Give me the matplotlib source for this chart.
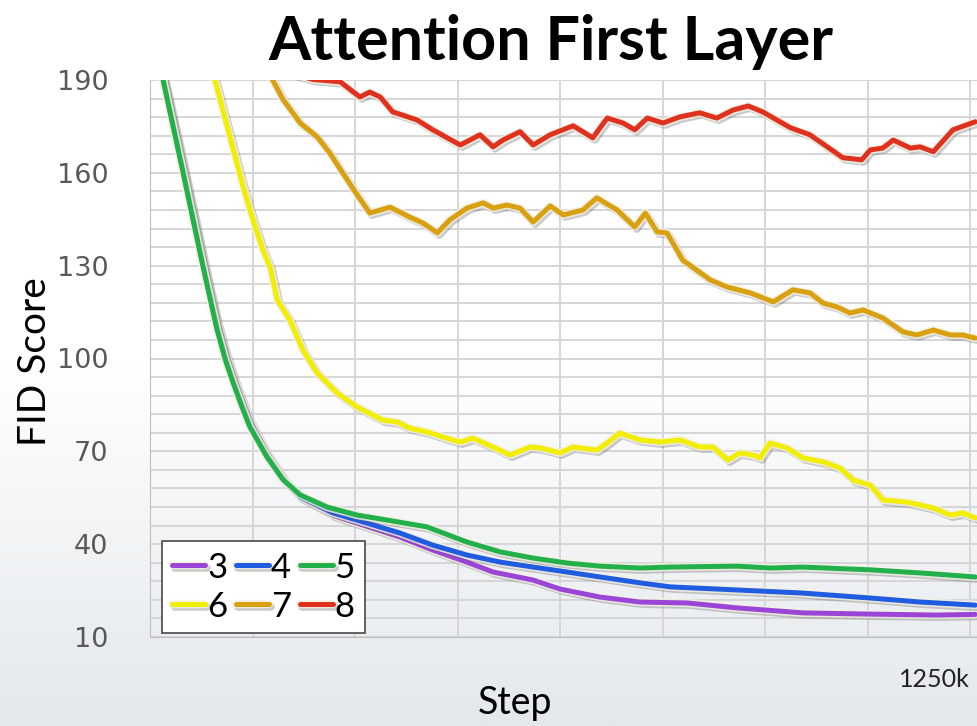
import numpy as np
import matplotlib
matplotlib.use('Agg')
import matplotlib.pyplot as plt
import matplotlib.patheffects as pe

# steps in thousands, FID values
steps_3 = [10, 20, 50, 80, 102, 115, 127, 140, 152, 178, 203, 229, 279, 316, 381, 431, 483, 523,
           584, 625, 686, 747, 819, 895, 995, 1098, 1200, 1258]
fid_3 = [200, 191.5, 163, 133, 112, 102, 94, 86.5, 80, 69.5, 61.5, 55.5, 49.4, 46.8, 42.3, 38.1, 34.2, 31.0,
         28.4, 25.5, 22.9, 21.3, 21.0, 19.4, 17.8, 17.4, 17.1, 17.3]

steps_4 = [10, 20, 50, 80, 102, 115, 127, 140, 152, 178, 203, 229, 279, 331, 381, 431, 483, 534,
           584, 636, 686, 747, 793, 895, 995, 1098, 1174, 1258]
fid_4 = [200, 190, 161, 131, 110, 100, 92.5, 85, 78.5, 68.5, 61, 55.2, 50.1, 46.8, 43.6, 39.7, 36.5, 34.2,
         32.6, 31.0, 29.4, 27.5, 26.2, 25.2, 24.2, 22.6, 21.3, 20.3]

steps_5 = [10, 20, 50, 80, 102, 115, 127, 140, 152, 178, 203, 229, 270, 316, 361, 422, 447, 483, 534,
           584, 636, 686, 747, 793, 895, 945, 995, 1098, 1174, 1258]
fid_5 = [200, 190, 160.5, 130.5, 109.5, 99.5, 92, 84.5, 78, 68.3, 60.8, 55.9, 52.0, 49.4, 47.8, 45.6, 43.6, 40.7, 37.5,
         35.5, 33.9, 32.9, 32.3, 32.6, 32.9, 32.3, 32.6, 31.7, 30.7, 29.4]

steps_6 = [80, 99, 122, 142, 157, 172, 183, 194, 213, 233, 255, 285, 316, 355, 377, 396, 422,
           447, 473, 492, 523, 549, 579, 595, 625, 645, 681, 697, 716, 747, 777, 808, 838,
           858, 881, 899, 919, 930, 945, 971, 995, 1026, 1052, 1072, 1098, 1117, 1154, 1194,
           1220, 1239, 1258]
fid_6 = [200, 190, 171.6, 155.5, 144.8, 135.1, 129.6, 118.9, 112.5, 102.8, 95.3, 88.9, 84.3, 80.1, 79.5, 77.5, 76.3,
         74.6, 73.0, 74.3, 71.4, 68.8, 71.4, 71.1, 69.5, 71.4, 70.4, 72.7, 75.9, 73.7, 73.0, 73.7, 71.4,
         71.4, 67.2, 69.5, 68.8, 67.9, 72.7, 71.1, 67.9, 66.6, 64.6, 60.7, 59.1, 54.3, 53.6, 51.7,
         49.4, 50.1, 48.5]

steps_7 = [150, 187, 203, 229, 255, 274, 294, 316, 335, 366, 396, 416, 438, 457, 483, 508, 523,
           544, 564, 584, 610, 630, 660, 681, 712, 739, 755, 773, 788, 812, 854, 880, 915, 950,
           980, 1006, 1026, 1047, 1067, 1087, 1117, 1148, 1169, 1194, 1220, 1239, 1258]
fid_7 = [200, 190, 183.6, 176.1, 171.6, 166.4, 159.9, 152.8, 147.0, 148.9, 145.7, 143.8, 140.6, 144.8, 148.6, 150.3, 148.6,
         149.6, 148.6, 144.1, 149.3, 146.4, 148.0, 151.9, 148.0, 142.5, 147.0, 140.9, 140.6, 131.8, 125.4, 123.1, 121.2, 118.3,
         122.2, 121.2, 117.9, 116.7, 114.7, 115.7, 113.1, 108.6, 107.6, 109.2, 107.6, 107.6, 106.6]

steps_8 = [200, 248, 290, 320, 335, 351, 370, 407, 431, 473, 503, 523, 538, 564, 584, 610, 645,
           675, 697, 721, 739, 758, 782, 808, 838, 864, 889, 912, 934, 976, 1006, 1056, 1085,
           1098, 1117, 1133, 1159, 1174, 1194, 1224, 1258]
fid_8 = [193, 190.2, 189.4, 184.5, 186.1, 184.5, 179.7, 177.1, 173.9, 169.0, 172.3, 168.4, 170.6, 173.3, 169.0, 172.3, 175.2,
         171.3, 177.7, 176.1, 173.9, 177.7, 176.1, 178.1, 179.4, 177.7, 180.3, 181.6, 179.7, 174.6, 172.3, 164.9, 164.2,
         167.4, 168.0, 170.6, 168.0, 168.4, 166.8, 173.9, 176.5]

labels = ['3', '4', '5', '6', '7', '8']
colors = ['#9b45d6', '#1f5ce0', '#22b04b', '#f2ee00', '#d9a010', '#e0301e']

fig = plt.figure(figsize=(9.77, 7.26), dpi=100)

# background gradient, white at top to light grey at bottom
bg = fig.add_axes([0, 0, 1, 1], zorder=-10)
grad = np.linspace(0, 1, 256).reshape(-1, 1)
bg.imshow(grad, aspect='auto', cmap=matplotlib.colors.LinearSegmentedColormap.from_list(
    'bg', ['#ffffff', '#ffffff', '#e4e8ec']), extent=[0, 1, 0, 1])
bg.axis('off')

ax = fig.add_axes([150 / 977, 1 - 637 / 726, 827 / 977, 557 / 726])
ax.patch.set_alpha(0)

all_steps = [steps_3, steps_4, steps_5, steps_6, steps_7, steps_8]
all_fid = [fid_3, fid_4, fid_5, fid_6, fid_7, fid_8]
glow = [pe.SimpleLineShadow(offset=(1.5, -1.5), shadow_color='#555555', alpha=0.3, linewidth=5.5),
        pe.Stroke(linewidth=6.0, foreground='#f4f1e4', alpha=0.8),
        pe.Normal()]
lines = {}
for i in [5, 4, 3, 0, 1, 2]:
    ln, = ax.plot(all_steps[i], all_fid[i], color=colors[i], lw=3.6, label=labels[i], zorder=3 + i,
                  solid_capstyle='round', solid_joinstyle='round', path_effects=glow)
    lines[labels[i]] = ln

ax.set_xlim(0, 1250 * 827 / 820)
ax.set_ylim(10, 190)

ax.set_yticks(np.arange(10, 191, 30))
ax.set_yticks(np.arange(10, 191, 6), minor=True)
ax.set_xticks([1250], ['1250k'])
ax.set_xticks(np.arange(0, 1251, 156.25), minor=True)
ax.grid(True, which='both', color='#d6d6d6', lw=1.4)
ax.set_axisbelow(True)

ax.tick_params(axis='both', which='both', length=0)
ax.tick_params(axis='y', labelsize=19.5, labelcolor='#595959', pad=30)
ax.tick_params(axis='x', labelsize=18, labelcolor='#222222', pad=22)
for t in ax.get_xticklabels():
    t.set_ha('right')
    t.set_fontfamily('Lato')

for s in ['top', 'right']:
    ax.spines[s].set_visible(False)
ax.spines['left'].set_color('#bfbfbf')
ax.spines['bottom'].set_color('#bfbfbf')

fig.text(551 / 977, 1 - 60 / 726, 'Attention First Layer', ha='center', va='baseline',
         fontsize=44, fontweight='bold', family='Lato')
fig.text(515 / 977, 1 - 714 / 726, 'Step', ha='center', va='baseline', fontsize=27, family='Lato')
fig.text(35 / 977, 1 - 362 / 726, 'FID Score', ha='center', va='center', rotation=90,
         fontsize=28, family='Lato')

# legend rows read 3 4 5 / 6 7 8; matplotlib fills by column
leg_order = ['3', '6', '4', '7', '5', '8']
leg = ax.legend([lines[l] for l in leg_order], leg_order, ncol=3, loc='lower left',
                bbox_to_anchor=(12 / 827, 4 / 557), prop={'family': 'Lato', 'size': 25},
                handlelength=0.95, handletextpad=0.05, columnspacing=0.25, labelspacing=0.2,
                borderpad=0.3, borderaxespad=0, fancybox=False, framealpha=1, edgecolor='#555555')
leg.get_frame().set_linewidth(1.3)
leg.set_zorder(20)

fig.savefig('out.png', dpi=100)
